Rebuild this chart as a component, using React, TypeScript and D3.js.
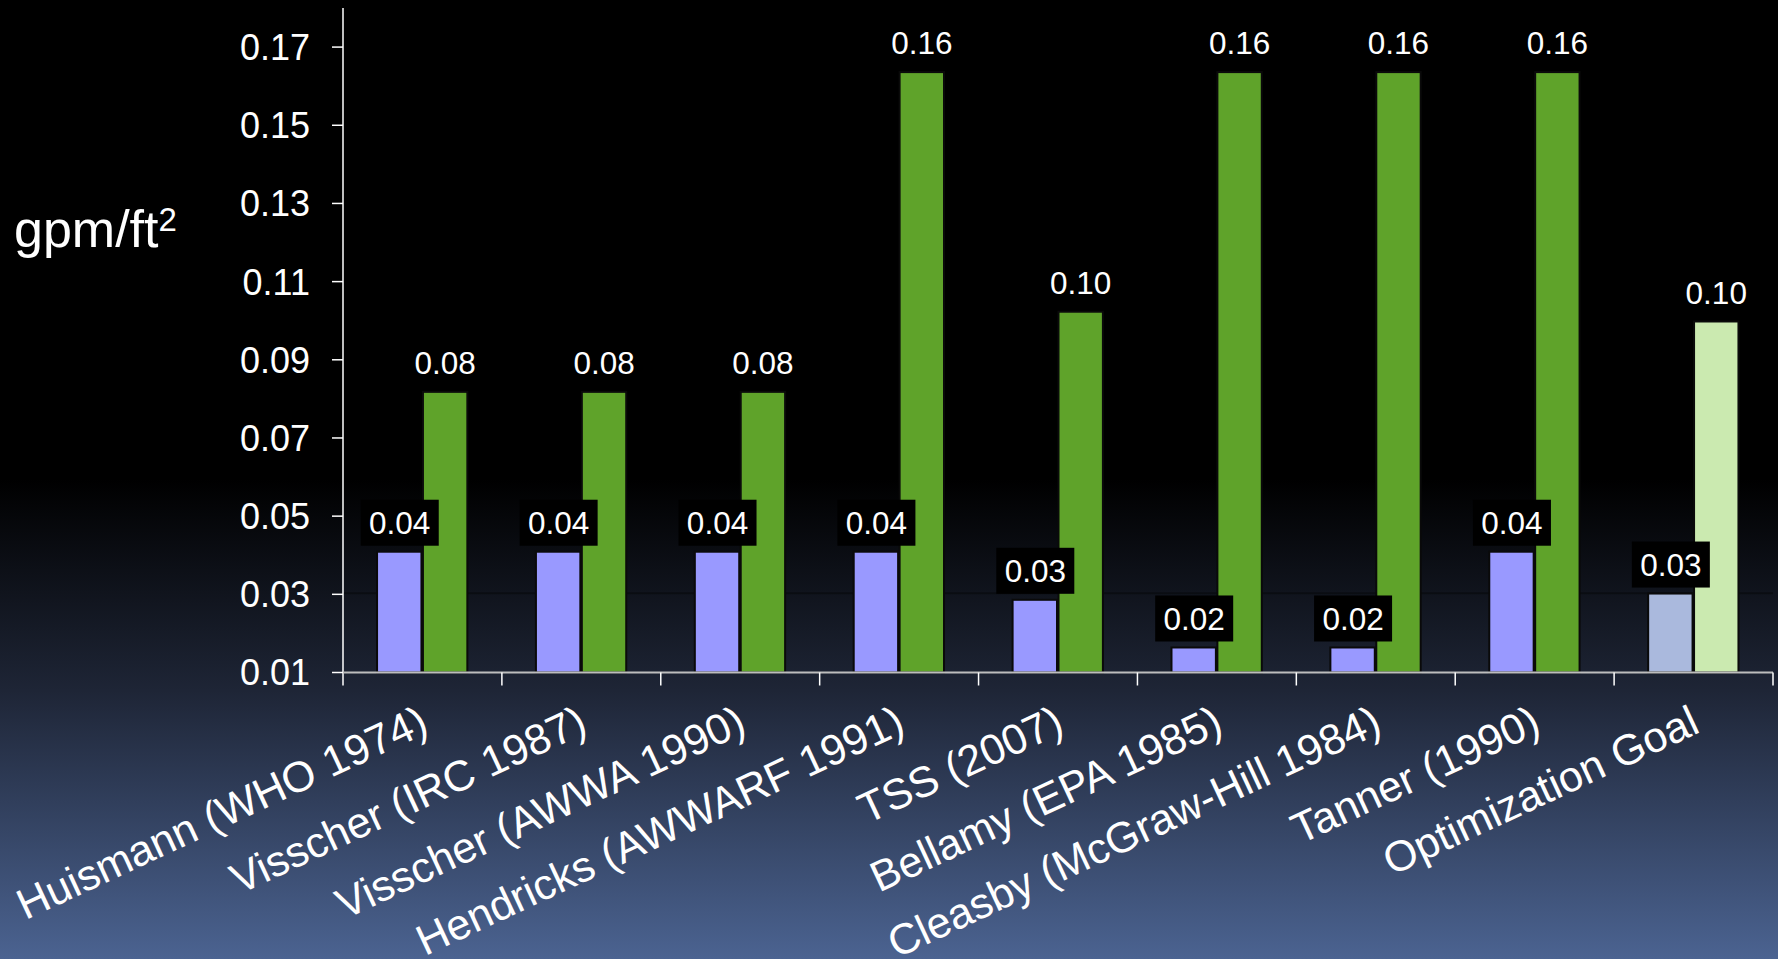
import React from "react";
import * as d3 from "d3";

const categories = [
  "Huismann (WHO 1974)",
  "Visscher (IRC 1987)",
  "Visscher (AWWA 1990)",
  "Hendricks (AWWARF 1991)",
  "TSS (2007)",
  "Bellamy (EPA 1985)",
  "Cleasby (McGraw-Hill 1984)",
  "Tanner (1990)",
  "Optimization Goal",
];
const lowRate = [0.0409, 0.0409, 0.0409, 0.0409, 0.0286, 0.0164, 0.0164, 0.0409, 0.0302];
const highRate = [0.0818, 0.0818, 0.0818, 0.1636, 0.1023, 0.1636, 0.1636, 0.1636, 0.0998];
const yTicks = [0.01, 0.03, 0.05, 0.07, 0.09, 0.11, 0.13, 0.15, 0.17];

const W = 1778;
const H = 959;
const FONT = "'Liberation Sans', Arial, Helvetica, sans-serif";

export default function App() {
  const left = 343;
  const right = 1773;
  const top = 8;
  const bottom = 672.5;

  const x = d3.scaleBand<string>().domain(categories).range([left, right]).paddingInner(0).paddingOuter(0);
  const y = d3.scaleLinear().domain([0.01, 0.18]).range([bottom, top]);
  const bw = x.bandwidth();
  const barW = bw / 3.5;
  const fmt = d3.format(".2f");
  const n = categories.length;

  const lowColor = (i: number) => (i === n - 1 ? "#aab9dd" : "#9999ff");
  const highColor = (i: number) => (i === n - 1 ? "#cbeab0" : "#5fa32a");

  const label = (cxp: number, v: number, key: string) => {
    const ty = y(v) - 29;
    return (
      <g key={key}>
        <rect x={cxp - 39} y={ty - 23} width={78} height={46} fill="#000" />
        <text
          x={cxp}
          y={ty}
          dy="0.36em"
          textAnchor="middle"
          fontSize={31.5}
          fill="#fff"
          fontFamily={FONT}
        >
          {fmt(v)}
        </text>
      </g>
    );
  };

  return (
    <svg
      width={W}
      height={H}
      style={{ position: "absolute", left: 0, top: 0 }}
      xmlns="http://www.w3.org/2000/svg"
    >
      <defs>
        <linearGradient id="bg" x1="0" y1="0" x2="0" y2={H} gradientUnits="userSpaceOnUse">
          <stop offset="0" stopColor="#000" />
          <stop offset="0.5" stopColor="#000" />
          <stop offset="0.72" stopColor="#1e2536" />
          <stop offset="1" stopColor="#4b6391" />
        </linearGradient>
      </defs>
      <rect x={0} y={0} width={W} height={H} fill="url(#bg)" />

      {/* faint band line */}
      <line x1={left} x2={right} y1={y(0.03) - 1} y2={y(0.03) - 1} stroke="#000" strokeOpacity={0.35} strokeWidth={2} />

      {/* bars */}
      {categories.map((c, i) => {
        const cx = (x(c) as number) + bw / 2;
        return (
          <g key={c}>
            <rect
              x={cx - barW}
              y={y(lowRate[i])}
              width={barW - 1}
              height={bottom - y(lowRate[i])}
              fill={lowColor(i)}
              stroke="#0a0a0a"
              strokeWidth={2}
            />
            <rect
              x={cx + 0.5}
              y={y(highRate[i])}
              width={barW - 1}
              height={bottom - y(highRate[i])}
              fill={highColor(i)}
              stroke="#0a0a0a"
              strokeWidth={2}
            />
          </g>
        );
      })}

      {/* labels */}
      {categories.map((c, i) => {
        const cx = (x(c) as number) + bw / 2;
        return (
          <g key={"l" + c}>
            {label(cx + barW / 2, highRate[i], "h" + i)}
            {label(cx - barW / 2, lowRate[i], "l" + i)}
          </g>
        );
      })}

      {/* y axis */}
      <line x1={left} x2={left} y1={top} y2={bottom + 13} stroke="#fff" strokeWidth={1.5} />
      {yTicks.map((t) => (
        <g key={t}>
          <line x1={left - 11} x2={left} y1={y(t)} y2={y(t)} stroke="#fff" strokeWidth={1.5} />
          <text
            x={left - 33}
            y={y(t)}
            dy="0.36em"
            textAnchor="end"
            fontSize={36}
            fill="#fff"
            fontFamily={FONT}
          >
            {t.toFixed(2)}
          </text>
        </g>
      ))}

      {/* x axis */}
      <line x1={left} x2={right} y1={bottom} y2={bottom} stroke="#bdbdbd" strokeWidth={2} />
      {categories.map((c) => (
        <line
          key={"t" + c}
          x1={(x(c) as number) + bw}
          x2={(x(c) as number) + bw}
          y1={bottom}
          y2={bottom + 13}
          stroke="#fff"
          strokeWidth={1.5}
        />
      ))}
      {categories.map((c) => {
        const cx = (x(c) as number) + bw / 2;
        return (
          <text
            key={"c" + c}
            transform={`translate(${cx + 8},${bottom + 59}) rotate(-25)`}
            textAnchor="end"
            fontSize={43}
            fill="#fff"
            fontFamily={FONT}
          >
            {c}
          </text>
        );
      })}

      {/* y title */}
      <text x={14} y={247} fontSize={52} fill="#fff" fontFamily={FONT}>
        gpm/ft
        <tspan fontSize={33} dy={-16}>2</tspan>
      </text>
    </svg>
  );
}
